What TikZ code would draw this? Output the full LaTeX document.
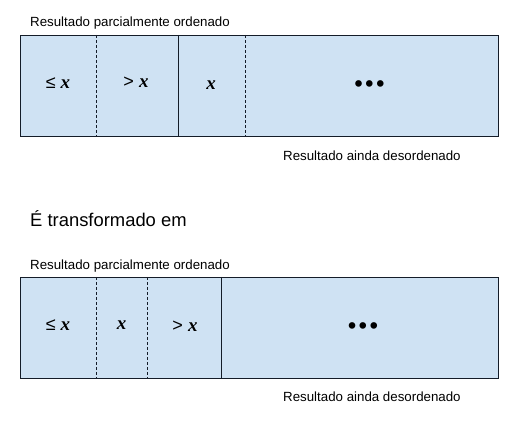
\documentclass[tikz,border=0pt]{standalone}
\usepackage{fontspec}
\setmainfont{Liberation Sans}
\newfontfamily\serifx{Liberation Serif}
\definecolor{cellfill}{RGB}{207,226,243}
\definecolor{lineclr}{RGB}{20,28,40}
\begin{document}
\begin{tikzpicture}[x=1pt,y=-1pt,
  cellbox/.style={draw=lineclr, fill=cellfill, line width=0.9pt},
  divdash/.style={draw=lineclr, line width=0.7pt, dash pattern=on 3pt off 2pt},
  divsolid/.style={draw=lineclr, line width=0.9pt},
  caption/.style={font=\fontsize{13.3}{15}\selectfont, inner sep=0pt, anchor=west},
  bigcap/.style={font=\fontsize{18.4}{21}\selectfont, inner sep=0pt, anchor=west},
  lbl/.style={font=\fontsize{18}{19}\selectfont, inner sep=0pt},
  dots/.style={font=\fontsize{23}{23}\selectfont\bfseries, inner sep=0pt}]
\useasboundingbox (0,0) rectangle (515,433);
\newcommand{\bx}{{\serifx\bfseries\itshape\fontsize{19}{19}\selectfont x}}
\newcommand{\threedots}{•\hspace{2.8pt}•\hspace{2.8pt}•}
% top
\node[caption] (c1) at (30,23.5) {Resultado parcialmente ordenado};
\path[cellbox] (20,35) rectangle (498,136);
\coordinate (t1a) at (96.5,35); \coordinate (t1b) at (96.5,136);
\coordinate (t2a) at (178.5,35); \coordinate (t2b) at (178.5,136);
\coordinate (t3a) at (245.5,35); \coordinate (t3b) at (245.5,136);
\draw[divdash] (t1a) -- (t1b);
\draw[divsolid] (t2a) -- (t2b);
\draw[divdash] (t3a) -- (t3b);
\node[lbl] (a1) at (58,83) {≤ \bx};
\node[lbl] (a2) at (136,82) {> \bx};
\node[lbl] (a3) at (211,85) {\bx};
\node[dots] (a4) at (369.5,86) {\threedots};
\node[caption] (c2) at (283,156) {Resultado ainda desordenado};
% middle
\node[bigcap] (m) at (30,219) {É transformado em};
% bottom
\node[caption] (c3) at (30,266.5) {Resultado parcialmente ordenado};
\path[cellbox] (20,277) rectangle (498,378);
\coordinate (b1a) at (96.5,277); \coordinate (b1b) at (96.5,378);
\coordinate (b2a) at (147.5,277); \coordinate (b2b) at (147.5,378);
\coordinate (b3a) at (221.5,277); \coordinate (b3b) at (221.5,378);
\draw[divdash] (b1a) -- (b1b);
\draw[divdash] (b2a) -- (b2b);
\draw[divsolid] (b3a) -- (b3b);
\node[lbl] (d1) at (58,325) {≤ \bx};
\node[lbl] (d2) at (121.5,325) {\bx};
\node[lbl] (d3) at (185,326) {> \bx};
\node[dots] (d4) at (363,328) {\threedots};
\node[caption] (c4) at (283,397) {Resultado ainda desordenado};
\end{tikzpicture}
\end{document}
